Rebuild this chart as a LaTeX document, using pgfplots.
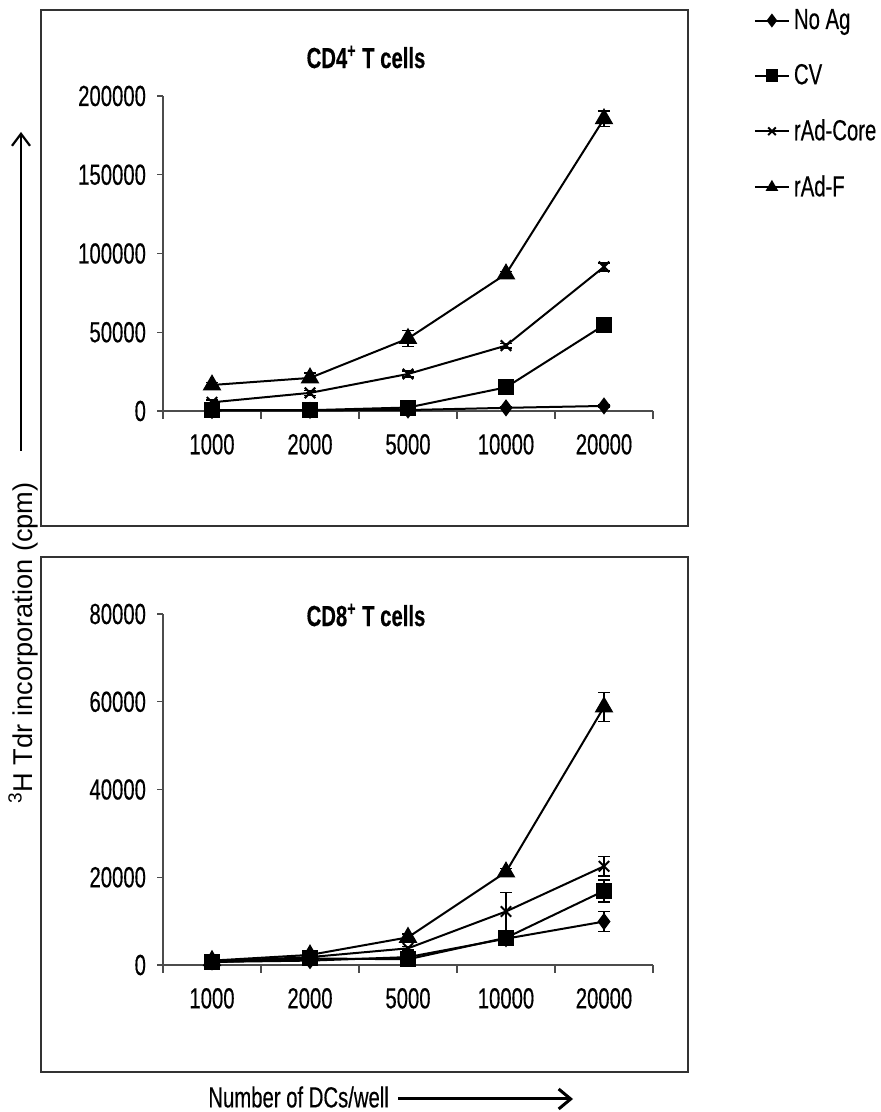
\documentclass[border=0pt]{standalone}
\usepackage{fontspec}
\setmainfont[FakeStretch=0.7, FakeBold=0.4]{Liberation Sans}
\newfontfamily\widefont{Liberation Sans}
\usepackage{pgfplots}
\usepackage{pgfplotstable}
\pgfplotsset{compat=1.18}
\usetikzlibrary{arrows.meta}

% CD4+ T cells
\pgfplotstableread{
x y e
1 300 200
2 400 200
3 600 300
4 2000 500
5 3200 800
}\fourNoAg
\pgfplotstableread{
x y e
1 500 200
2 500 300
3 2200 500
4 15000 1500
5 54500 2500
}\fourCV
\pgfplotstableread{
x y e
1 5500 1500
2 11500 1500
3 23500 2000
4 41500 1500
5 91500 2500
}\fourCore
\pgfplotstableread{
x y e
1 16500 1500
2 21000 3000
3 46000 5000
4 87000 1500
5 185500 5000
}\fourF
% CD8+ T cells
\pgfplotstableread{
x y e
1 700 300
2 1000 300
3 1800 300
4 6000 500
5 9900 2300
}\eightNoAg
\pgfplotstableread{
x y e
1 600 300
2 1500 400
3 1300 300
4 6200 600
5 16900 2500
}\eightCV
\pgfplotstableread{
x y e
1 800 300
2 1800 300
3 3800 400
4 12200 4300
5 22500 2200
}\eightCore
\pgfplotstableread{
x y e
1 1000 400
2 2300 600
3 6300 800
4 21200 800
5 58800 3300
}\eightF

\pgfplotsset{
  panel/.style={
    scale only axis, width=245pt, anchor=south west,
    xmin=0.5, xmax=5.5, ymin=0,
    scaled y ticks=false,
    axis x line=bottom, axis y line=left,
    axis line style={black!70, -, line width=0.6pt},
    xtick={1,2,3,4,5},
    xticklabels={1000,2000,5000,10000,20000},
    major x tick style={draw=none},
    minor xtick={0.5,1.5,2.5,3.5,4.5,5.5},
    minor x tick style={black!70, line width=0.6pt},
    y tick style={black!70, line width=0.6pt},
    tick align=outside,
    major tick length=3pt, minor tick length=4pt,
    tick label style={font=\fontsize{14.5}{17}\selectfont},
    xticklabel style={yshift=-5pt},
    yticklabel style={xshift=-2pt},
    clip=false,
  },
  ser/.style={black, line width=1pt, mark options={solid, fill=black},
    error bars/y dir=both, error bars/y explicit,
    error bars/error bar style={line width=0.7pt, solid},
    error bars/error mark options={line width=0.7pt, mark size=3pt, rotate=90}},
  noag/.style={ser, mark=diamond*, mark size=3.5pt},
  cv/.style={ser, mark=square*, mark size=3.5pt},
  core/.style={ser, mark=x, mark size=3.7pt},
  rf/.style={ser, mark=triangle*, mark size=4.4pt},
}

\begin{document}
\begin{tikzpicture}
\useasboundingbox (0,0) rectangle (440pt,556pt);
% panel frames
\draw[black!80, line width=0.8pt] (20.5pt,293pt) rectangle (344pt,551pt);
\draw[black!80, line width=0.8pt] (20.5pt,20pt) rectangle (344pt,277.5pt);

\begin{axis}[panel, at={(81.5pt,350.5pt)}, height=157.5pt, ymax=200000,
  ytick={0,50000,100000,150000,200000},
  yticklabels={0,50000,100000,150000,200000},
  legend style={at={(1.205,1.29)}, anchor=north west, draw=none, fill=none,
    font=\fontsize{14.5}{17}\selectfont, row sep=12pt,
    inner sep=0pt, cells={anchor=west}},
  legend image post style={mark size=2.7pt},
]
\addplot[noag] table[x=x,y=y,y error=e] {\fourNoAg};
\addlegendentry{No Ag}
\addplot[cv] table[x=x,y=y,y error=e] {\fourCV};
\addlegendentry{CV}
\addplot[core] table[x=x,y=y,y error=e] {\fourCore};
\addlegendentry{rAd-Core}
\addplot[rf] table[x=x,y=y,y error=e] {\fourF};
\addlegendentry{rAd-F}
\end{axis}

\begin{axis}[panel, at={(81.5pt,73.5pt)}, height=175.5pt, ymax=80000,
  ytick={0,20000,40000,60000,80000},
  yticklabels={0,20000,40000,60000,80000},
]
\addplot[noag] table[x=x,y=y,y error=e] {\eightNoAg};
\addplot[cv] table[x=x,y=y,y error=e] {\eightCV};
\addplot[core] table[x=x,y=y,y error=e] {\eightCore};
\addplot[rf] table[x=x,y=y,y error=e] {\eightF};
\end{axis}

% titles
\node[font=\bfseries\fontsize{14.5}{17}\selectfont] at (183pt,527.5pt) {CD4\textsuperscript{+} T cells};
\node[font=\bfseries\fontsize{14.5}{17}\selectfont] at (183pt,248.5pt) {CD8\textsuperscript{+} T cells};

% y label with arrow
\node[rotate=90, anchor=east, inner sep=0pt, font=\widefont\fontsize{13.6}{16}\selectfont] at (11.5pt,315pt) {\textsuperscript{3}H Tdr incorporation (cpm)};
\draw[line width=1.1pt, -{Straight Barb[length=6pt,width=9pt]}] (10.5pt,330.5pt) -- (10.5pt,490pt);

% x label with arrow
\node[anchor=west, inner sep=0pt, font=\fontsize{14.5}{17}\selectfont] at (104pt,7.5pt) {Number of DCs/well};
\draw[line width=1.5pt, -{Straight Barb[length=6pt,width=10pt]}] (199pt,6.5pt) -- (286.5pt,6.5pt);
\end{tikzpicture}
\end{document}
